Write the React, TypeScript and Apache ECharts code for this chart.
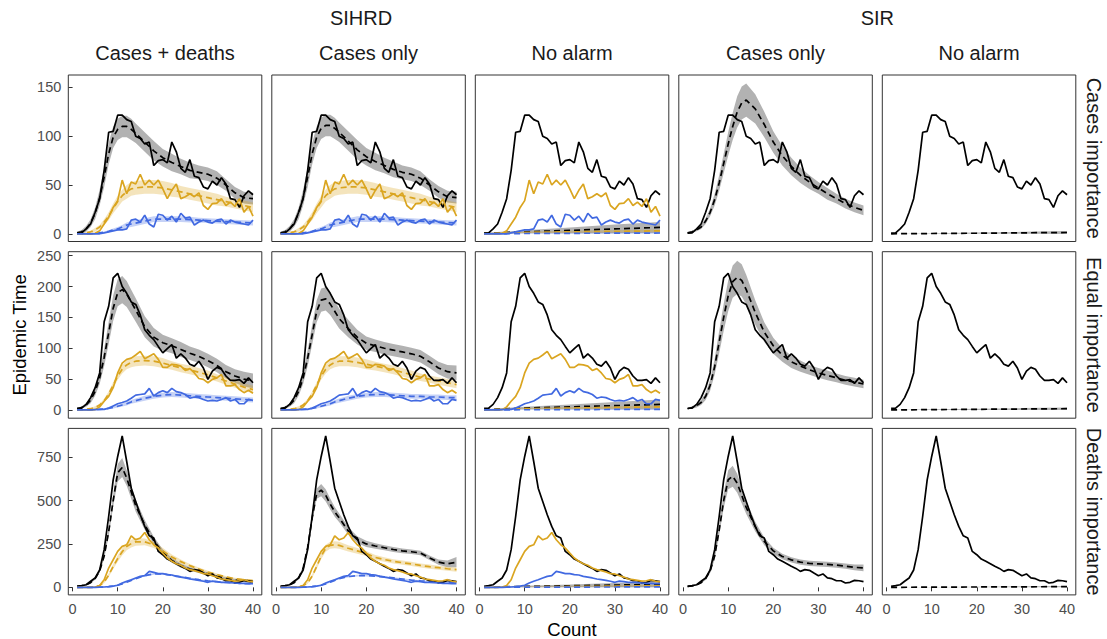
import React, { useEffect, useRef } from 'react';
import * as echarts from 'echarts';

// ---------------- data ----------------
const DAYS = [1,2,3,4,5,6,7,8,9,10,11,12,13,14,15,16,17,18,19,20,21,22,23,24,25,26,27,28,29,30,31,32,33,34,35,36,37,38,39,40];
const FIT_X = [1,2,3,4,5,6,7,8,9,10,11,12,13,14,16,18,20,22,24,26,28,30,32,34,36,38,40];
const FLAT_X = [1,10,20,30,40];

const X_TICKS = [0,10,20,30,40];
const Y_TICKS = [[0,50,100,150],[0,50,100,150,200,250],[0,250,500,750]];

const COL_LABELS = ['Cases + deaths','Cases only','No alarm','Cases only','No alarm'];
const GROUP_LABELS = ['SIHRD','SIR'];
const ROW_LABELS = ['Cases importance','Equal importance','Deaths importance'];

// observed series (row 1: cases importance)
const obs1Black = [0.7,1,5,10,22,36,65,104,105,121.5,121.5,117,115,100,97.6,92,94,70,75,76,72.6,94,84,67,63,76,59,57.5,48,46,54,50,57.5,51,36,35,27,39,44,40];
const obs1Gold = [0,0,0,0,0.5,3,10,17,27,34,55,41,53,51,61,50,55,50,55,46,36,44.5,51,36,38,41,38,42,29,25,31,31.5,36,29,32.5,28,36,22,28,18];
const obs1Blue = [0,0,0,0,0,0,1,2,3,4,4,5,14,15,12,19,10,7,20,19,14,18,12,21,16,17,9,12,14,12,11,14,15,10,14,12,11,10,9,14];
// row 2: equal importance
const obs2Black = [2.7,3,9,20,36,60,143,168,214,221.5,200,189,175,171,154,130,121,114,103,92.5,99.5,106,84,91,84,74,71,79,68,49.5,63,69,66,55,48,48,49,43,52,44];
const obs2Gold = [0,0,0,0,0.5,5,14,22,36,60,76,82,84,89,95,83,87,91,82,69,69,74,73,71,64,67,60,51,49.5,44,49.5,52,57.5,39,39,41,33,28,32,27];
const obs2Blue = [0,0,0,0,0.5,1,1,3,6.5,10,12,14.5,19,24,25,26,35,22.6,28,31,28,35,29.6,28,25,19,21,20,17,14.5,15.6,14.5,17,20,14.5,17,10,10,17,15.6];
// row 3: deaths importance
const obs3Black = [6,10,15,35,54,100,217,408,619,754,872,725,571,495,418,351,297,284,207,188,163,150,136,121,109,92,102,98,82,67,77,54,50,38,38,25,29,40,38,33];
const obs3Gold = [0,0,0,0,2,10,44,111,159,207,236,245,297,274,284,316,274,245,226,197,169,150,136,127,111,102,96,88,79,77,67,59,48,44,40,36,38,44,35,31];
const obs3Blue = [0,0,0,0,0,1,2,4,7,12,25,35,44,54,63,67,92,86,79,79,73,71,63,59,54,48,44,40,35,29,36,33,29,29,27,25,23,23,21,21];

// fitted means and ribbon half-widths (at FIT_X or FLAT_X)
const r1c1BlackMean = [1,2,5,11,21,37,58,82,99,107,110,110,107,103,94,85,78,73,69,65,63,61,57,50,42,37,36];
const r1c1BlackHw = [1,2,3,4,6,8,10,11,11,11,11,11,11,10,10,10,9,9,8,8,7,7,7,6,6,6,6];
const r1c1GoldMean = [0,0.5,1,2,4,7,12,18,26,33,39,43,46,47,48,48,47,45,43,41,39,37,35,33,31,29,27];
const r1c1GoldHw = [0.5,0.5,1,1,2,2,3,4,5,6,6,7,7,7,7,7,7,7,6,6,6,6,6,5,5,5,5];
const r1c1BlueMean = [0,0,0,0,0.5,1,1.5,2.5,4,5,7,9,10,11,13,15,15,15,15,14.5,14,13.5,13,12.5,12,11.5,11];
const r1c1BlueHw = [0,0,0,0,0.3,0.5,0.8,1,1.5,2,2,2.5,3,3,3,3,3,3,3,3,2.5,2.5,2.5,2.5,2.5,2.5,2.5];

const r1c2BlackMean = [1,2,5,11,21,37,58,82,99,108,111,111,108,104,95,86,79,74,70,66,63,61,57,50,43,38,37];
const r1c2GoldMean = [0,0.5,1,2,4,7,12,18,26,33,39,43,46,47,48,48,47,45,43,41,39,37,35,33,31,29,27];
const r1c2BlueMean = [0,0,0,0,0.5,1,1.5,2.5,4,5,7,9,10,11,13,15,15,15,15,14.5,14,13.5,13,12.5,12,11.5,11];

const r1c3BlackMean = [0.5,2,3.5,5,6.5];
const r1c3BlackHw = [0.5,1.5,3,4.5,5.5];
const r1c3GoldMean = [0.3,1.5,2,2.5,3];
const r1c3GoldHw = [0.3,0.8,1,1.2,1.5];
const r1c3BlueMean = [0,0.3,0.5,0.6,0.8];
const r1c3BlueHw = [0,0.3,0.5,0.6,0.8];

const r1c4BlackMean = [1,2,4,7,13,22,35,52,72,92,110,125,134,137,128,112,94,80,69,60,53,47,41,36,31,27,24];
const r1c4BlackHw = [0.5,1,1.5,2,3,4,6,8,10,12,14,16,17,17,15,13,11,10,9,8,7,6,6,5,5,5,5];
const r1c5BlackMean = [0,0.3,0.6,1,1.3];
const r1c5BlackHw = [0,0.3,0.6,1,1.5];

const r2c1BlackMean = [2,4,8,16,30,52,85,125,165,190,195,188,175,162,135,118,109,104,98,92,87,80,72,62,55,50,47];
const r2c1BlackHw = [1,2,3,5,7,10,14,18,21,22,22,21,20,19,17,15,13,12,12,11,11,11,11,11,11,12,12];
const r2c1GoldMean = [0,0.5,1,2,4,8,15,26,40,55,66,73,77,79,80,79,76,72,68,65,61,57,52,47,42,37,33];
const r2c1GoldHw = [0.3,0.5,1,1,2,2,3,4,5,6,7,7,8,8,8,8,8,7,7,7,7,7,6,6,6,6,6];
const r2c1BlueMean = [0,0,0,0,0.5,1,1.5,2.5,4,6,8,10,13,15,19,22,24,25,24,23,22,21,20,19,18,17,16];
const r2c1BlueHw = [0,0,0,0,0.3,0.5,0.8,1,1.5,2,2.5,3,3,3.5,4,4,4,4,4,4,4,4,4,4,4,4,4];

const r2c2BlackMean = [2,4,8,16,30,52,84,122,160,178,180,172,160,148,132,118,108,104,100,97,94,91,87,78,68,62,60];
const r2c2BlackHw = [1,2,3,5,7,10,13,16,18,19,19,18,17,16,14,12,11,10,10,10,10,10,10,10,10,11,12];
const r2c2GoldMean = [0,0.5,1,2,4,8,15,26,40,55,66,73,77,79,79,77,74,71,68,65,61,57,53,50,47,44,41];
const r2c2BlueMean = [0,0,0,0,0.5,1,1.5,2.5,4,6,8,10,13,15,19,22,24,25,25,24,23,22,22,21,21,20,20];

const r2c3BlackMean = [0.5,3,5,7,9];
const r2c3BlackHw = [0.5,2,4,6,8];
const r2c3GoldMean = [0.3,2,3,4,5];
const r2c3GoldHw = [0.3,1,1.5,2,2];
const r2c3BlueMean = [0,0.3,0.5,0.8,1];
const r2c3BlueHw = [0,0.3,0.5,0.8,1];

const r2c4BlackMean = [2,4,7,12,22,40,70,110,150,185,208,215,210,195,158,126,104,89,78,71,65,60,56,52,48,45,42];
const r2c4BlackHw = [1,2,3,4,6,9,13,18,22,25,26,27,26,24,20,16,13,11,10,9,8,8,8,7,7,7,7];
const r2c5BlackMean = [0,0.5,1,1.5,2];
const r2c5BlackHw = [0,0.5,1,1.5,2];

const r3c1BlackMean = [5,8,14,27,50,95,180,320,500,660,690,630,550,470,360,270,200,155,125,105,92,78,63,52,42,36,31];
const r3c1BlackHw = [1,2,3,4,6,10,15,25,35,50,55,45,40,35,28,22,18,14,12,10,9,8,7,6,6,5,5];
const r3c1GoldMean = [0,0.5,1,2,4,10,30,70,120,165,205,235,252,262,262,245,210,175,148,125,105,88,73,60,50,43,38];
const r3c1GoldHw = [0,0.5,1,1,2,3,6,10,14,18,20,22,22,22,20,18,16,14,12,10,9,8,7,6,5,5,5];
const r3c1BlueMean = [0,0,0,0,0,1,2,4,7,12,20,30,40,50,67,78,77,70,61,52,44,37,32,28,25,22,20];
const r3c1BlueHw = [0,0,0,0,0,0.5,1,1,2,2,3,3,4,4,5,5,5,5,4,4,4,3,3,3,3,3,3];

const r3c2BlackMean = [5,8,14,27,55,110,230,400,540,560,530,480,435,400,325,275,250,238,228,218,210,205,198,170,145,135,145];
const r3c2BlackHw = [1,2,3,5,8,12,18,25,30,35,35,32,28,25,22,20,18,16,15,14,13,13,13,13,15,20,30];
const r3c2GoldMean = [0,0.5,1,2,4,10,25,65,120,180,225,242,245,242,225,210,195,172,160,150,142,135,126,119,113,107,102];
const r3c2GoldHw = [0,0.5,1,1,2,3,5,10,14,18,20,20,20,20,18,16,15,14,13,12,12,12,12,12,12,12,12];
const r3c2BlueMean = [0,0,0,0,0,1,2,4,7,12,20,30,40,50,62,68,68,65,60,54,48,42,38,35,32,30,28];

const r3c3BlackMean = [1,5,9,13,17];
const r3c3BlackHw = [1,4,8,12,16];
const r3c3GoldMean = [0.5,3,5,7,9];
const r3c3GoldHw = [0.5,2,3,4,5];
const r3c3BlueMean = [0,1,1.5,2,2.5];
const r3c3BlueHw = [0,1,1.5,2,2.5];

const r3c4BlackMean = [5,8,14,27,50,95,180,330,500,620,640,600,530,460,350,265,210,178,158,145,138,135,132,128,122,115,112];
const r3c4BlackHw = [1,2,3,5,8,12,20,30,45,55,60,55,45,38,28,22,18,16,15,15,15,15,15,15,15,17,20];
const r3c5BlackMean = [0,1,2,3,4];
const r3c5BlackHw = [0,1,2,3,4];

// ---------------- styling / layout ----------------
type Col = 'black' | 'gold' | 'blue';
const LINE: Record<Col, string> = { black: '#000000', gold: '#DAA520', blue: '#4169E1' };
const FILL: Record<Col, string> = {
  black: 'rgba(0,0,0,0.3)',
  gold: 'rgba(218,165,32,0.3)',
  blue: 'rgba(65,105,225,0.3)',
};
const FONT = "'Liberation Sans', Arial, Helvetica, sans-serif";

const COL_LEFT = [68.3, 271.8, 475.3, 678.8, 882.3];
const PANEL_W = 193.5;
const ROW_TOP = [75, 251.7, 428.4];
const PANEL_H = 166.5;
const X_LIM = [-0.95, 41.95];
const Y_LIM = [[-7.9, 162.7], [-13.4, 256.5], [-43.6, 915.6]];

type Fit = { x: number[]; mean: number[]; hw: number[]; color: Col };
const F = (x: number[], mean: number[], hw: number[], color: Col): Fit => ({ x, mean, hw, color });

const OBS = [
  { black: obs1Black, gold: obs1Gold, blue: obs1Blue },
  { black: obs2Black, gold: obs2Gold, blue: obs2Blue },
  { black: obs3Black, gold: obs3Gold, blue: obs3Blue },
];

const PANEL_FITS: Fit[][][] = [
  [
    [F(FIT_X, r1c1BlackMean, r1c1BlackHw, 'black'), F(FIT_X, r1c1GoldMean, r1c1GoldHw, 'gold'), F(FIT_X, r1c1BlueMean, r1c1BlueHw, 'blue')],
    [F(FIT_X, r1c2BlackMean, r1c1BlackHw, 'black'), F(FIT_X, r1c2GoldMean, r1c1GoldHw, 'gold'), F(FIT_X, r1c2BlueMean, r1c1BlueHw, 'blue')],
    [F(FLAT_X, r1c3BlackMean, r1c3BlackHw, 'black'), F(FLAT_X, r1c3GoldMean, r1c3GoldHw, 'gold'), F(FLAT_X, r1c3BlueMean, r1c3BlueHw, 'blue')],
    [F(FIT_X, r1c4BlackMean, r1c4BlackHw, 'black')],
    [F(FLAT_X, r1c5BlackMean, r1c5BlackHw, 'black')],
  ],
  [
    [F(FIT_X, r2c1BlackMean, r2c1BlackHw, 'black'), F(FIT_X, r2c1GoldMean, r2c1GoldHw, 'gold'), F(FIT_X, r2c1BlueMean, r2c1BlueHw, 'blue')],
    [F(FIT_X, r2c2BlackMean, r2c2BlackHw, 'black'), F(FIT_X, r2c2GoldMean, r2c1GoldHw, 'gold'), F(FIT_X, r2c2BlueMean, r2c1BlueHw, 'blue')],
    [F(FLAT_X, r2c3BlackMean, r2c3BlackHw, 'black'), F(FLAT_X, r2c3GoldMean, r2c3GoldHw, 'gold'), F(FLAT_X, r2c3BlueMean, r2c3BlueHw, 'blue')],
    [F(FIT_X, r2c4BlackMean, r2c4BlackHw, 'black')],
    [F(FLAT_X, r2c5BlackMean, r2c5BlackHw, 'black')],
  ],
  [
    [F(FIT_X, r3c1BlackMean, r3c1BlackHw, 'black'), F(FIT_X, r3c1GoldMean, r3c1GoldHw, 'gold'), F(FIT_X, r3c1BlueMean, r3c1BlueHw, 'blue')],
    [F(FIT_X, r3c2BlackMean, r3c2BlackHw, 'black'), F(FIT_X, r3c2GoldMean, r3c2GoldHw, 'gold'), F(FIT_X, r3c2BlueMean, r3c1BlueHw, 'blue')],
    [F(FLAT_X, r3c3BlackMean, r3c3BlackHw, 'black'), F(FLAT_X, r3c3GoldMean, r3c3GoldHw, 'gold'), F(FLAT_X, r3c3BlueMean, r3c3BlueHw, 'blue')],
    [F(FIT_X, r3c4BlackMean, r3c4BlackHw, 'black')],
    [F(FLAT_X, r3c5BlackMean, r3c5BlackHw, 'black')],
  ],
];

function buildOption() {
  const grid: any[] = [];
  const xAxis: any[] = [];
  const yAxis: any[] = [];
  const series: any[] = [];

  for (let r = 0; r < 3; r++) {
    for (let c = 0; c < 5; c++) {
      const i = r * 5 + c;
      grid.push({
        left: COL_LEFT[c], top: ROW_TOP[r], width: PANEL_W, height: PANEL_H,
        show: true, borderColor: '#333333', borderWidth: 1, backgroundColor: 'transparent',
        containLabel: false, outerBoundsMode: 'none',
      });
      xAxis.push({
        type: 'value', gridIndex: i, min: X_LIM[0], max: X_LIM[1],
        axisLine: { show: false }, splitLine: { show: false },
        axisTick: { show: r === 2, customValues: X_TICKS, length: 4, lineStyle: { color: '#333333', width: 1 } },
        axisLabel: { show: r === 2, customValues: X_TICKS, fontSize: 14.5, color: '#4D4D4D', margin: 7, fontFamily: FONT },
      });
      yAxis.push({
        type: 'value', gridIndex: i, min: Y_LIM[r][0], max: Y_LIM[r][1],
        axisLine: { show: false }, splitLine: { show: false },
        axisTick: { show: c === 0, customValues: Y_TICKS[r], length: 4, lineStyle: { color: '#333333', width: 1 } },
        axisLabel: { show: c === 0, customValues: Y_TICKS[r], fontSize: 14.5, color: '#4D4D4D', margin: 7, fontFamily: FONT },
      });

      const fits = PANEL_FITS[r][c];
      // ribbons
      fits.forEach((f) => {
        const lo = f.mean.map((m, k) => m - f.hw[k]);
        const hi = f.mean.map((m, k) => m + f.hw[k]);
        series.push({
          type: 'custom', xAxisIndex: i, yAxisIndex: i, silent: true, z: 1, clip: true,
          data: f.x.map((x, k) => [x, lo[k], hi[k]]),
          encode: { x: 0, y: [1, 2] },
          renderItem: (params: any, api: any) => {
            if (params.dataIndex !== 0) return null;
            const pts: number[][] = [];
            for (let k = 0; k < f.x.length; k++) pts.push(api.coord([f.x[k], hi[k]]));
            for (let k = f.x.length - 1; k >= 0; k--) pts.push(api.coord([f.x[k], lo[k]]));
            return { type: 'polygon', shape: { points: pts }, style: { fill: FILL[f.color], stroke: null }, silent: true };
          },
        });
      });
      // observed
      const obsCols: Col[] = c < 3 ? ['black', 'gold', 'blue'] : ['black'];
      obsCols.forEach((col) => {
        const vals = (OBS[r] as any)[col] as number[];
        series.push({
          type: 'line', xAxisIndex: i, yAxisIndex: i, silent: true, z: 3,
          showSymbol: false, symbol: 'none',
          data: DAYS.map((d, k) => [d, vals[k]]),
          lineStyle: { color: LINE[col], width: 1.7 },
        });
      });
      // fitted dashed
      fits.forEach((f) => {
        series.push({
          type: 'line', xAxisIndex: i, yAxisIndex: i, silent: true, z: 2,
          showSymbol: false, symbol: 'none',
          data: f.x.map((x, k) => [x, f.mean[k]]),
          lineStyle: { color: LINE[f.color], width: 1.7, type: [6, 4] },
        });
      });
    }
  }

  const graphic: any[] = [];
  const txt = (text: string, x: number, y: number, size: number, color: string, rotation = 0) => ({
    type: 'text', x, y, rotation, silent: true,
    style: { text, x: 0, y: 0, align: 'center', verticalAlign: 'middle', fontSize: size, fill: color, fontFamily: FONT },
  });
  // group strips
  graphic.push(txt(GROUP_LABELS[0], 361, 18, 20, '#1A1A1A'));
  graphic.push(txt(GROUP_LABELS[1], (COL_LEFT[3] + COL_LEFT[4] + PANEL_W) / 2, 18, 20, '#1A1A1A'));
  // column strips
  COL_LABELS.forEach((t, c) => graphic.push(txt(t, COL_LEFT[c] + PANEL_W / 2, 53, 20, '#1A1A1A')));
  // row strips
  ROW_LABELS.forEach((t, r) => graphic.push(txt(t, 1094, ROW_TOP[r] + PANEL_H / 2, 20, '#1A1A1A', -Math.PI / 2)));
  // axis titles
  graphic.push(txt('Count', (COL_LEFT[0] + COL_LEFT[4] + PANEL_W) / 2, 629, 18.5, '#000000'));
  graphic.push(txt('Epidemic Time', 19, (ROW_TOP[0] + ROW_TOP[2] + PANEL_H) / 2, 18.5, '#000000', Math.PI / 2));

  return {
    animation: false,
    backgroundColor: '#FFFFFF',
    grid, xAxis, yAxis, series, graphic,
  };
}

export default function App() {
  const ref = useRef<HTMLDivElement>(null);
  useEffect(() => {
    document.body.style.margin = '0';
    const chart = echarts.init(ref.current as HTMLDivElement, null, { renderer: 'svg' });
    chart.setOption(buildOption() as any);
    return () => chart.dispose();
  }, []);
  return <div ref={ref} style={{ width: 1107, height: 639 }} />;
}
